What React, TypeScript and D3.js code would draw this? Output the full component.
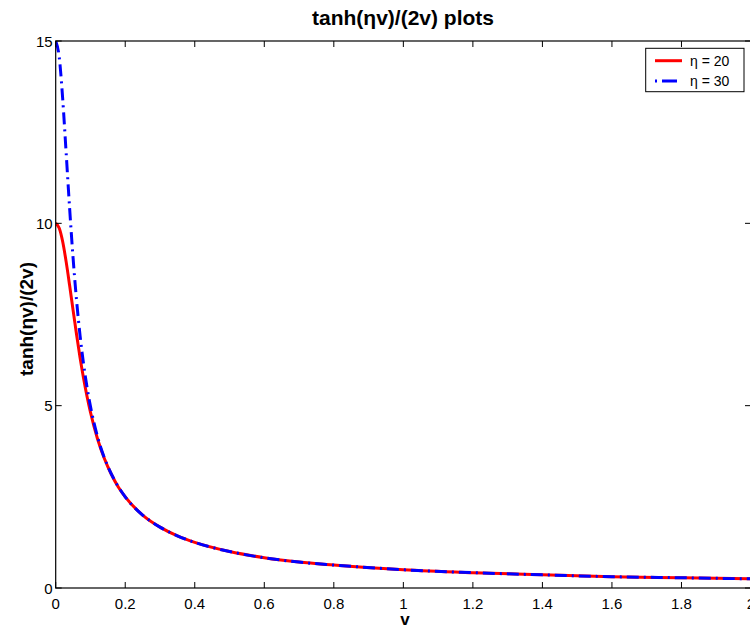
import * as d3 from 'd3';

// values
const vEta20 = [0, 0.01, 0.02, 0.03, 0.04, 0.05, 0.06, 0.07, 0.08, 0.09, 0.1, 0.12, 0.14, 0.16, 0.18, 0.2, 0.25, 0.3, 0.35, 0.4, 0.5, 0.6, 0.7, 0.8, 1.0, 1.2, 1.4, 1.6, 1.8, 2.0];
const yEta20 = [10, 9.87, 9.5, 8.95, 8.3, 7.62, 6.95, 6.32, 5.76, 5.26, 4.82, 4.1, 3.55, 3.12, 2.77, 2.5, 2.0, 1.67, 1.43, 1.25, 1.0, 0.83, 0.71, 0.63, 0.5, 0.42, 0.36, 0.31, 0.28, 0.25];
const vEta30 = [0, 0.01, 0.02, 0.03, 0.04, 0.05, 0.06, 0.07, 0.08, 0.09, 0.1, 0.12, 0.14, 0.16, 0.18, 0.2, 0.25, 0.3, 0.35, 0.4, 0.5, 0.6, 0.7, 0.8, 1.0, 1.2, 1.4, 1.6, 1.8, 2.0];
const yEta30 = [15, 14.57, 13.43, 11.94, 10.42, 9.05, 7.89, 6.93, 6.15, 5.51, 4.98, 4.16, 3.57, 3.13, 2.78, 2.5, 2.0, 1.67, 1.43, 1.25, 1.0, 0.83, 0.71, 0.63, 0.5, 0.42, 0.36, 0.31, 0.28, 0.25];
const xTicks = [0, 0.2, 0.4, 0.6, 0.8, 1, 1.2, 1.4, 1.6, 1.8, 2];
const yTicks = [0, 5, 10, 15];
const legendLabels = ['η = 20', 'η = 30'];

const W = 750;
const H = 629;
const left = 55.7, right = 751, top = 41, bottom = 588;

export default function App() {
  const x = d3.scaleLinear([0, 2], [left, right]);
  const y = d3.scaleLinear([0, 15], [bottom, top]);
  const line = d3.line<[number, number]>().x(d => x(d[0])).y(d => y(d[1])).curve(d3.curveMonotoneX);
  const d20 = line(vEta20.map((v, i) => [v, yEta20[i]]) as [number, number][]) || '';
  const d30 = line(vEta30.map((v, i) => [v, yEta30[i]]) as [number, number][]) || '';
  const font = 'Liberation Sans, Arial, sans-serif';

  return (
    <svg width={W} height={H} style={{ position: 'absolute', left: 0, top: 0, background: '#fff' }} fontFamily={font}>
      <defs>
        <clipPath id="plot">
          <rect x={left} y={top} width={right - left} height={bottom - top} />
        </clipPath>
      </defs>
      <g clipPath="url(#plot)">
        <path d={d20} fill="none" stroke="#ff0000" strokeWidth={3} />
        <path d={d30} fill="none" stroke="#0000ff" strokeWidth={3} strokeDasharray="12,5,2,5" />
      </g>
      {/* axes box */}
      <rect x={left} y={top} width={right - left} height={bottom - top} fill="none" stroke="#000" strokeWidth={1.2} />
      {xTicks.map(t => (
        <g key={'x' + t}>
          <line x1={x(t)} x2={x(t)} y1={bottom} y2={bottom - 6} stroke="#000" />
          <line x1={x(t)} x2={x(t)} y1={top} y2={top + 6} stroke="#000" />
          <text x={x(t)} y={608.5} fontSize={15} textAnchor="middle" fill="#000">{t === 0 ? '0' : t}</text>
        </g>
      ))}
      {yTicks.map(t => (
        <g key={'y' + t}>
          <line x1={left} x2={left + 6} y1={y(t)} y2={y(t)} stroke="#000" />
          <line x1={right - 6} x2={right} y1={y(t)} y2={y(t)} stroke="#000" />
          <text x={left - 3} y={y(t) + 5.5} fontSize={15} textAnchor="end" fill="#000">{t}</text>
        </g>
      ))}
      <text x={403} y={25} fontSize={21} fontWeight="bold" textAnchor="middle" fill="#000">tanh(ηv)/(2v) plots</text>
      <text x={405} y={625} fontSize={17} fontWeight="bold" textAnchor="middle" fill="#000">v</text>
      <text transform="translate(33,319) rotate(-90)" fontSize={19} fontWeight="bold" textAnchor="middle" fill="#000">tanh(ηv)/(2v)</text>
      {/* legend */}
      <rect x={645.7} y={48.3} width={98.3} height={43.4} fill="#fff" stroke="#000" strokeWidth={1} />
      <line x1={655} x2={682} y1={60.7} y2={60.7} stroke="#ff0000" strokeWidth={3} />
      <line x1={655} x2={682} y1={81} y2={81} stroke="#0000ff" strokeWidth={3} strokeDasharray="2,5,15,5" />
      {legendLabels.map((l, i) => (
        <text key={l} x={690} y={65.5 + i * 20.3} fontSize={14} fill="#000">{l}</text>
      ))}
    </svg>
  );
}
